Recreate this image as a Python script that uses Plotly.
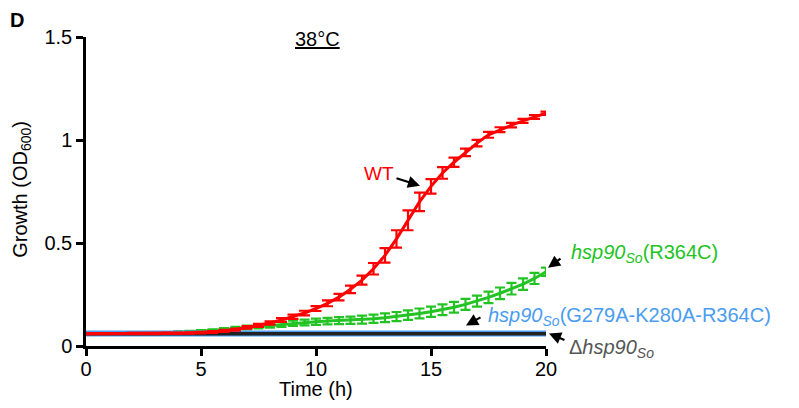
import plotly.graph_objects as go

time_h = [i * 0.5 for i in range(41)]

wt = [0.060, 0.060, 0.060, 0.060, 0.061, 0.061, 0.061, 0.062, 0.062, 0.063,
      0.065, 0.068, 0.073, 0.080, 0.090, 0.100, 0.112, 0.126, 0.142, 0.160,
      0.182, 0.207, 0.237, 0.275, 0.320, 0.375, 0.440, 0.520, 0.610, 0.700,
      0.775, 0.840, 0.892, 0.940, 0.985, 1.025, 1.050, 1.072, 1.093, 1.112, 1.130]
wt_err = [0.003, 0.003, 0.003, 0.003, 0.003, 0.003, 0.003, 0.003, 0.003, 0.003,
          0.004, 0.004, 0.005, 0.005, 0.006, 0.007, 0.008, 0.009, 0.010, 0.011,
          0.012, 0.014, 0.016, 0.018, 0.022, 0.028, 0.035, 0.042, 0.048, 0.045,
          0.035, 0.028, 0.022, 0.018, 0.016, 0.014, 0.012, 0.011, 0.010, 0.009, 0.008]

r364c = [0.060, 0.060, 0.061, 0.061, 0.062, 0.062, 0.063, 0.064, 0.066, 0.068,
         0.071, 0.075, 0.080, 0.085, 0.090, 0.095, 0.100, 0.105, 0.110, 0.114,
         0.118, 0.121, 0.123, 0.125, 0.128, 0.132, 0.137, 0.143, 0.150, 0.158,
         0.166, 0.176, 0.188, 0.202, 0.218, 0.236, 0.256, 0.278, 0.300, 0.328, 0.360]
r364c_err = [0.004, 0.004, 0.004, 0.004, 0.004, 0.004, 0.004, 0.004, 0.005, 0.005,
             0.006, 0.006, 0.007, 0.008, 0.009, 0.010, 0.011, 0.012, 0.013, 0.014,
             0.015, 0.016, 0.017, 0.018, 0.019, 0.020, 0.021, 0.022, 0.023, 0.024,
             0.025, 0.026, 0.026, 0.027, 0.027, 0.028, 0.028, 0.028, 0.028, 0.027, 0.020]

triple = [0.061] * 41
delta = [0.059] * 41

RED = "#ff0000"
GREEN = "#22c322"
BLUE = "#4a9cf0"
BLACK = "#222222"
GRAY = "#555555"
FONT = "Liberation Sans, Arial, sans-serif"

# page offset (browser body margin) and plot area in page pixels
OFF = 8
L, T, W, H = 86, 37, 460, 309.5
FIG_W, FIG_H = 799 - OFF, 408 - OFF


def px_to_paper(px, py):
    return (px - L) / W, 1 - (py - T) / H


fig = go.Figure()

fig.add_trace(go.Scatter(
    x=time_h, y=r364c, mode="lines", line=dict(color=GREEN, width=3),
    error_y=dict(type="data", array=r364c_err, color=GREEN, thickness=2.2, width=5),
    cliponaxis=False, showlegend=False))
fig.add_trace(go.Scatter(
    x=time_h, y=triple, mode="lines", line=dict(color=BLUE, width=6),
    showlegend=False))
fig.add_trace(go.Scatter(
    x=time_h, y=delta, mode="lines", line=dict(color=BLACK, width=3.5),
    showlegend=False))
fig.add_trace(go.Scatter(
    x=time_h, y=wt, mode="lines", line=dict(color=RED, width=3),
    error_y=dict(type="data", array=wt_err, color=RED, thickness=2.2, width=5.5),
    cliponaxis=False, showlegend=False))

axis_common = dict(
    showline=True, linecolor="black", linewidth=2.5,
    ticks="outside", ticklen=7, tickwidth=2.5, tickcolor="black",
    showgrid=False, zeroline=False,
    tickfont=dict(family=FONT, size=20, color="black"),
)

fig.update_xaxes(range=[0, 20], tickvals=[0, 5, 10, 15, 20],
                 ticklabelstandoff=-4, **axis_common)
fig.update_yaxes(range=[0, 1.5], tickvals=[0, 0.5, 1, 1.5],
                 ticktext=["0", "0.5", "1", "1.5"], **axis_common)

texts = [
    ("<b>D</b>", 17, 20, "center", 0, dict(size=20, color="black")),
    ("38°C", 317, 39, "center", 0, dict(size=20, color="black", lineposition="under")),
    ("Time (h)", 316, 390, "center", 0, dict(size=20, color="black")),
    ("Growth (OD<sub>600</sub>)", 22, 190, "center", -90, dict(size=20, color="black")),
    ("WT", 379, 174, "center", 0, dict(size=19, color=RED)),
    ("<i>hsp90<sub>So</sub></i>(R364C)", 569, 254, "left", 0, dict(size=20, color=GREEN)),
    ("<i>hsp90<sub>So</sub></i>(G279A-K280A-R364C)", 486, 317, "left", 0, dict(size=20, color=BLUE)),
    ("Δ<i>hsp90<sub>So</sub></i>", 567, 349, "left", 0, dict(size=20, color=GRAY)),
]

ann = []
for text, px, py, xanchor, angle, font in texts:
    x, y = px_to_paper(px, py)
    f = dict(family=FONT)
    f.update(font)
    ann.append(dict(text=text, x=x, y=y, xref="paper", yref="paper",
                    xanchor=xanchor, yanchor="middle", textangle=angle,
                    showarrow=False, font=f))

# Arrows (page pixel coords: tail -> head)
arrows = [
    ((395, 178), (420, 186)),
    ((562, 258), (548, 268)),
    ((482, 317), (466, 326)),
    ((566, 341), (549, 334)),
]
for (tx, ty), (hx, hy) in arrows:
    x, y = px_to_paper(hx, hy)
    ann.append(dict(
        x=x, y=y, xref="paper", yref="paper",
        ax=tx - hx, ay=ty - hy, axref="pixel", ayref="pixel",
        text="", showarrow=True, arrowhead=2, arrowsize=1.1, arrowwidth=2.2,
        arrowcolor="black"))

fig.update_layout(
    width=FIG_W, height=FIG_H,
    margin=dict(l=L - OFF, r=FIG_W - (L - OFF) - W, t=T - OFF,
                b=FIG_H - (T - OFF) - H),
    plot_bgcolor="white", paper_bgcolor="white",
    font=dict(family=FONT, color="black"),
    annotations=ann,
)

fig.write_html("out.html")
